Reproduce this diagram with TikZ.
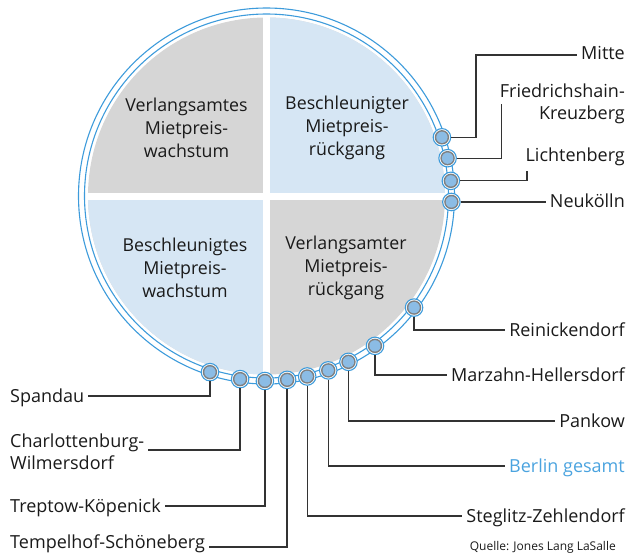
\documentclass[tikz,border=0pt]{standalone}
\usepackage{fontspec}
\setmainfont{Open Sans}
\usetikzlibrary{calc}
\definecolor{ringblue}{HTML}{3D9BDB}
\definecolor{dotfill}{HTML}{8BBCE5}
\definecolor{dotgray}{HTML}{7F7F7F}
\definecolor{qgray}{HTML}{D6D6D6}
\definecolor{qblue}{HTML}{D6E6F4}
\definecolor{txt}{HTML}{1A1A1A}
\definecolor{linec}{HTML}{333333}
\definecolor{berlinblue}{HTML}{4AA3DF}
\begin{document}
\begin{tikzpicture}[x=1pt,y=-1pt,
  lbl/.style={font=\fontsize{18}{23}\selectfont, text=txt, inner xsep=4pt, inner ysep=0pt, text height=12.5pt, text depth=0pt},
  mlbl/.style={font=\fontsize{18}{22}\selectfont, text=txt, inner xsep=4pt, inner ysep=0pt},
  quad/.style={font=\fontsize{17.8}{23}\selectfont, text=txt, align=center, inner sep=0pt},
  conn/.style={draw=linec, line width=1.3pt},
  ring/.style={draw=ringblue, line width=1.1pt},
  dotnode/.style={circle, draw=ringblue, fill=white, line width=1.1pt, minimum size=17.5pt, inner sep=0pt,
    path picture={\fill[dotgray] (path picture bounding box.center) circle (7.2pt);
                  \fill[dotfill] (path picture bounding box.center) circle (5.7pt);}}
]
\useasboundingbox (0,0) rectangle (629,555);
\coordinate (c) at (266.5,196);

% quadrants
\fill[qgray] (c) circle (178.5);
\begin{scope}
  \clip (c) circle (178.5);
  \fill[qblue] (266.5,196) rectangle (450,10);
  \fill[qblue] (266.5,196) rectangle (80,380);
\end{scope}
\draw[white, line width=7pt] (266.5,15) -- (266.5,378);
\draw[white, line width=7pt] (85,196) -- (448,196);

% rings
\draw[ring] (c) circle (188);
\draw[ring] (c) circle (182);

% quadrant texts
\node[quad] (q-tl) at (186.5,128) {Verlangsamtes\\Mietpreis-\\wachstum};
\node[quad] (q-tr) at (347,128) {Beschleunigter\\Mietpreis-\\rückgang};
\node[quad] (q-bl) at (185,268) {Beschleunigtes\\Mietpreis-\\wachstum};
\node[quad] (q-br) at (346,268) {Verlangsamter\\Mietpreis-\\rückgang};

% dots
\foreach \n/\a in {mitte/-18.5, fk/-11.8, lb/-4.7, nk/1.85, rd/37.1, mh/54.1, pk/63.7, bg/70.5, sz/77.3, ts/83.6, tk/90.5, cw/98.2, sp/107.8}
  \node[dotnode] (d-\n) at ($(c)+(\a:185)$) {};

% right labels
\node[lbl, anchor=east] (l-mitte) at (629,53) {Mitte};
\node[mlbl, anchor=east, align=right] (l-fk) at (629,104) {Friedrichshain-\\Kreuzberg};
\node[lbl, anchor=east] (l-lb) at (629,155) {Lichtenberg};
\node[lbl, anchor=east] (l-nk) at (629,201) {Neukölln};
\node[lbl, anchor=east] (l-rd) at (629,330) {Reinickendorf};
\node[lbl, anchor=east] (l-mh) at (629,375) {Marzahn-Hellersdorf};
\node[lbl, anchor=east] (l-pk) at (629,421) {Pankow};
\node[lbl, anchor=east, text=berlinblue] (l-bg) at (629,466) {Berlin gesamt};
\node[lbl, anchor=east] (l-sz) at (629,516) {Steglitz-Zehlendorf};

% left labels
\node[lbl, anchor=west] (l-sp) at (6,396) {Spandau};
\node[mlbl, anchor=west, align=left] (l-cw) at (6,452) {Charlottenburg-\\Wilmersdorf};
\node[lbl, anchor=west] (l-tk) at (6,506) {Treptow-Köpenick};
\node[lbl, anchor=west] (l-ts) at (6,542) {Tempelhof-Schöneberg};

% source
\node[font=\fontsize{12}{14}\selectfont, text=txt, anchor=east, inner xsep=4pt, inner ysep=0pt] (src) at (620,547) {Quelle: Jones Lang LaSalle};

% connectors
\coordinate (b-mitte) at (476,55);
\coordinate (b-lb) at (527,171);
\draw[conn] (d-mitte.east) -| (b-mitte) -- (l-mitte.west |- b-mitte);
\draw[conn] (d-fk.east) -| ([xshift=6pt]l-fk.west);
\draw[conn] (d-lb.east) -| (b-lb);
\draw[conn] (d-nk.east) -- (l-nk.west |- d-nk.east);
\draw[conn] (d-rd.south) |- (l-rd.west);
\draw[conn] (d-mh.south) |- (l-mh.west);
\draw[conn] (d-pk.south) |- (l-pk.west);
\draw[conn] (d-bg.south) |- (l-bg.west);
\draw[conn] (d-sz.south) |- (l-sz.west);
\draw[conn] (d-sp.south) |- (l-sp.east);
\draw[conn] (d-cw.south) |- ([yshift=2pt]l-cw.east);
\draw[conn] (d-tk.south) |- (l-tk.east);
\draw[conn] (d-ts.south) |- ([yshift=-5pt]l-ts.east);
\end{tikzpicture}
\end{document}
